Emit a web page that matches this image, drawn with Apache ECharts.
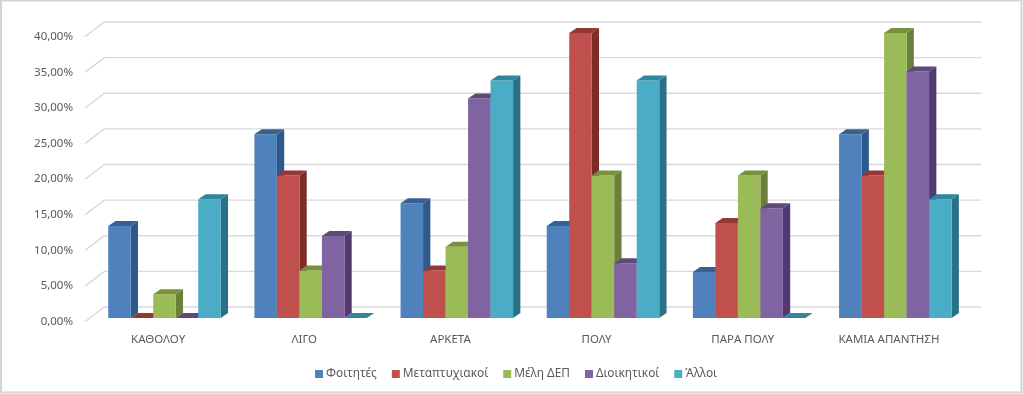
<!DOCTYPE html>
<html>
<head>
<meta charset="utf-8">
<style>
html,body{margin:0;padding:0;background:#fff;}
#main{width:1023px;height:394px;}
</style>
<script src="https://cdn.jsdelivr.net/npm/echarts@6/dist/echarts.min.js"></script>
</head>
<body>
<div id="main"></div>
<script>
var categories=['ΚΑΘΟΛΟΥ','ΛΙΓΟ','ΑΡΚΕΤΑ','ΠΟΛΥ','ΠΑΡΑ ΠΟΛΥ','ΚΑΜΙΑ ΑΠΑΝΤΗΣΗ'];
var seriesNames=['Φοιτητές','Μεταπτυχιακοί','Μέλη ΔΕΠ','Διοικητικοί','Άλλοι'];
var foitites=[12.9,25.8,16.1,12.9,6.45,25.8];
var metaptyxiakoi=[0,20,6.67,40,13.33,20];
var meliDep=[3.33,6.67,10,20,20,40];
var dioikitikoi=[0,11.5,30.8,7.7,15.4,34.6];
var alloi=[16.67,0,33.33,33.33,0,16.67];
var gridTicks=[0,5,10,15,20,25,30,35,40];

var faceColors=['#4f81bd','#c0504d','#9bbb59','#8064a2','#4bacc6'];
var sideColors=['#2c5a8b','#7f2b28','#6a7f3a','#523a70','#2a7089'];
var topColors=['#386192','#953735','#76923c','#5f497a','#31859c'];

var font='"Noto Sans"';
var barW=22.5,depthX=7.3,depthY=5;
var offX=6.4,offY=-3.7;     // bars stand a bit behind the front edge of the floor
var wallX=19.3,wallY=-14.7; // back wall

function renderBar(idx){
	return function(params,api){
		var p=api.coord([api.value(0),api.value(1)]);
		var b=api.coord([api.value(0),0]);
		var x=p[0]+offX-barW*2.5+idx*barW;
		var y=p[1]+offY;
		var y0=b[1]+offY;
		var children=[];
		if(y0-y>0.5){
			children.push({type:'polygon',shape:{points:[[x+barW,y],[x+barW+depthX,y-depthY],[x+barW+depthX,y0-depthY],[x+barW,y0]]},style:{fill:sideColors[idx]}});
			children.push({type:'rect',shape:{x:x,y:y,width:barW,height:y0-y},style:{fill:faceColors[idx]}});
		}
		children.push({type:'polygon',shape:{points:[[x,y],[x+depthX,y-depthY],[x+barW+depthX,y-depthY],[x+barW,y]]},style:{fill:topColors[idx]}});
		return {type:'group',children:children};
	};
}

function renderWall(params,api){
	var y=api.coord([0,api.value(0)])[1];
	var x0=params.coordSys.x;
	var xEnd=x0+params.coordSys.width;
	return {type:'polyline',shape:{points:[[x0,y],[x0+wallX,y+wallY],[xEnd+wallX,y+wallY]]},
		style:{stroke:'#d9d9d9',lineWidth:1.4,fill:null}};
}

var values=[foitites,metaptyxiakoi,meliDep,dioikitikoi,alloi];
var series=[{
	name:'wall',type:'custom',renderItem:renderWall,silent:true,clip:false,z:1,
	data:gridTicks.map(function(v){return [v];}),encode:{y:0}
}];
for(var i=0;i<values.length;i++){
	series.push({
		name:seriesNames[i],type:'custom',renderItem:renderBar(i),clip:false,z:2+i,
		itemStyle:{color:faceColors[i]},
		data:values[i].map(function(v,k){return [k,v];}),encode:{x:0,y:1}
	});
}

var myChart=echarts.init(document.getElementById('main'),null,{renderer:'canvas'});
myChart.setOption({
	animation:false,
	backgroundColor:'#fff',
	graphic:[{type:'rect',shape:{x:1,y:0.5,width:1020.5,height:392},style:{fill:'none',stroke:'#d4d4d4',lineWidth:2},silent:true}],
	grid:{left:85,top:36.7,width:877,height:285},
	legend:{
		data:seriesNames,left:310,top:363,icon:'rect',itemWidth:8,itemHeight:8,itemGap:15,
		textStyle:{fontFamily:font,fontSize:11.9,color:'#595959',padding:[0,0,0,-2]}
	},
	xAxis:{type:'category',data:categories,axisLine:{show:false},axisTick:{show:false},
		axisLabel:{margin:12,fontFamily:font,fontSize:11.5,color:'#595959',interval:0}},
	yAxis:{type:'value',min:0,max:40,interval:5,splitLine:{show:false},axisLine:{show:false},axisTick:{show:false},
		axisLabel:{margin:12,fontFamily:font,fontSize:11.5,color:'#595959',lineHeight:16,padding:[2,0,0,0],
			formatter:function(v){return v.toFixed(2).replace('.',',')+'%';}}},
	series:series
});
</script>
</body>
</html>
